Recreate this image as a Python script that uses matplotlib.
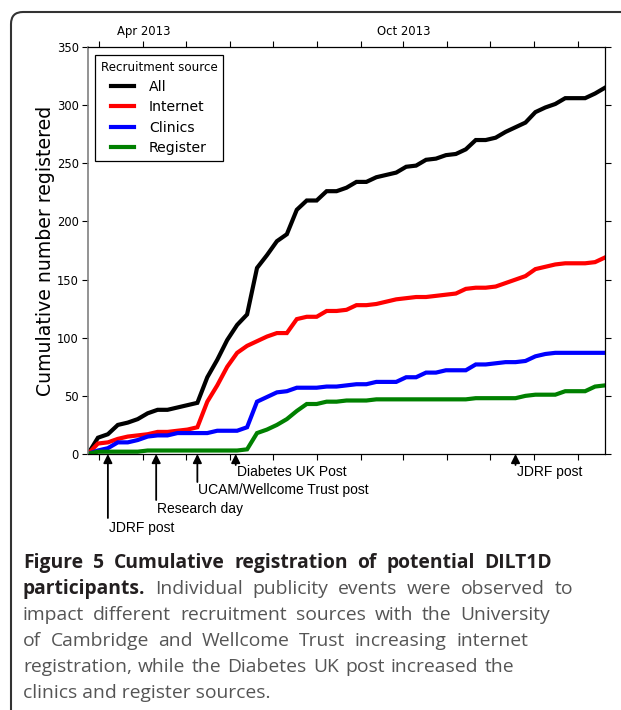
import matplotlib
matplotlib.use('Agg')
import matplotlib.pyplot as plt
import matplotlib.dates as mdates
from matplotlib.patches import FancyBboxPatch
from matplotlib.ticker import FuncFormatter
import pandas as pd

# Weekly cumulative registrations
weeks = pd.date_range('2013-02-21', periods=53, freq='7D')
all_sources = [0, 14, 17, 25, 27, 30, 35, 38, 38, 40, 42, 44, 66, 81, 98, 111, 120, 160,
               171, 183, 189, 210, 218, 218, 226, 226, 229, 234, 234, 238, 240, 242, 247,
               248, 253, 254, 257, 258, 262, 270, 270, 272, 277, 281, 285, 294, 298, 301,
               306, 306, 306, 310, 315]
internet = [0, 9, 10, 13, 15, 16, 17, 19, 19, 20, 21, 23, 45, 59, 75, 87, 93, 97, 101,
            104, 104, 116, 118, 118, 123, 123, 124, 128, 128, 129, 131, 133, 134, 135,
            135, 136, 137, 138, 142, 143, 143, 144, 147, 150, 153, 159, 161, 163, 164,
            164, 164, 165, 169]
clinics = [0, 3, 5, 10, 10, 12, 15, 16, 16, 18, 18, 18, 18, 20, 20, 20, 23, 45, 49, 53,
           54, 57, 57, 57, 58, 58, 59, 60, 60, 62, 62, 62, 66, 66, 70, 70, 72, 72, 72, 77,
           77, 78, 79, 79, 80, 84, 86, 87, 87, 87, 87, 87, 87]
register = [0, 2, 2, 2, 2, 2, 3, 3, 3, 3, 3, 3, 3, 3, 3, 3, 4, 18, 21, 25, 30, 37, 43,
            43, 45, 45, 46, 46, 46, 47, 47, 47, 47, 47, 47, 47, 47, 47, 47, 48, 48, 48,
            48, 48, 50, 51, 51, 51, 54, 54, 54, 58, 59]

series_names = ['All', 'Internet', 'Clinics', 'Register']
series_colors = ['black', '#ff0000', '#0000ff', '#008000']

# Publicity events
event_dates = pd.to_datetime(['2013-03-07', '2013-04-10', '2013-05-09', '2013-06-05', '2013-12-19'])
event_labels = ['JDRF post', 'Research day', 'UCAM/Wellcome Trust post', 'Diabetes UK Post', 'JDRF post']
event_drop = [64, 46, 28, 11, 11]      # arrow length below the axis (px)
event_text = [74, 55, 36, 18, 18]      # label centre below the axis (px)

# Caption lines: (word, bold) ; right edge of justified lines in px
caption_lines = [
    [('Figure', 1), ('5', 1), ('Cumulative', 1), ('registration', 1), ('of', 1),
     ('potential', 1), ('DILT1D', 1)],
    [('participants.', 1), ('Individual', 0), ('publicity', 0), ('events', 0),
     ('were', 0), ('observed', 0), ('to', 0)],
    [(w, 0) for w in 'impact different recruitment sources with the University'.split()],
    [(w, 0) for w in 'of Cambridge and Wellcome Trust increasing internet'.split()],
    [(w, 0) for w in 'registration, while the Diabetes UK post increased the'.split()],
    [('clinics and register sources.', 0)],
]
caption_right = [552, 573, 550, 528, 514, None]
caption_base = [568, 594, 620, 646, 672, 698]

W, H = 621, 710
fig = plt.figure(figsize=(W / 100, H / 100), dpi=100)

# rounded frame round the figure panel
frame = FancyBboxPatch((11, -40), 700, H - 12 + 40, boxstyle='round,pad=0,rounding_size=12',
                       transform=None, fill=False, edgecolor='#333333', linewidth=1.5)
fig.patches.append(frame)

ax = fig.add_axes([88 / W, 1 - 454 / H, 517 / W, 407 / H])

for vals, name, col in zip([all_sources, internet, clinics, register], series_names, series_colors):
    ax.plot(weeks, vals, color=col, lw=3, label=name, solid_joinstyle='miter')

ax.set_xlim(weeks[0], weeks[-1])
ax.set_ylim(0, 350)
ax.set_yticks(range(0, 351, 50))

ax.xaxis.set_major_locator(mdates.MonthLocator())


def month_label(x, pos):
    d = mdates.num2date(x)
    return d.strftime('%b %Y') if d.month in (4, 10) else ''


ax.xaxis.set_major_formatter(FuncFormatter(month_label))
ax.tick_params(axis='x', top=True, labeltop=True, bottom=True, labelbottom=False,
               direction='out', length=4, width=0.8, labelsize=8.4, pad=2.5)
ax.tick_params(axis='y', left=True, right=True, direction='out', length=4, width=0.8,
               labelsize=8.3, pad=2.5)
for s in ['top', 'right', 'bottom']:
    ax.spines[s].set_linewidth(0.9)
ax.spines['left'].set_color('#808080')
ax.spines['left'].set_linewidth(1.2)

ax.set_ylabel('Cumulative number registered', fontsize=13.6, labelpad=1.5)

leg = ax.legend(title='Recruitment source', loc='upper left', bbox_to_anchor=(0.0135, 0.98),
                borderaxespad=0, fontsize=10.1, title_fontsize=8.6, fancybox=False,
                edgecolor='black', framealpha=1, handlelength=1.65, handletextpad=1.05,
                labelspacing=0.45, borderpad=0.4)
leg.get_frame().set_linewidth(0.9)
for ln in leg.get_lines():
    ln.set_linewidth(3)

# event arrows and labels under the axis
for d, lab, drop, ty in zip(event_dates, event_labels, event_drop, event_text):
    ax.annotate('', xy=(d, 0), xycoords=('data', 'axes fraction'),
                xytext=(0, -drop), textcoords='offset pixels',
                arrowprops=dict(arrowstyle='-|>', color='black', lw=1.3,
                                mutation_scale=13, shrinkA=0, shrinkB=0),
                annotation_clip=False)
    ax.annotate(lab, xy=(d, 0), xycoords=('data', 'axes fraction'),
                xytext=(1, -ty), textcoords='offset pixels', ha='left', va='center',
                fontsize=10, family='Liberation Sans', annotation_clip=False)

# caption, justified word by word
cap_font = 'Open Sans'
cap_size = 13.9
renderer = fig.canvas.get_renderer()
for words, right, b in zip(caption_lines, caption_right, caption_base):
    texts = []
    for w, bold in words:
        t = fig.text(0, 1 - b / H, w, fontsize=cap_size, family=cap_font, va='baseline',
                     fontweight='bold' if bold else 'normal',
                     color='#231f20' if bold else '#555555')
        texts.append(t)
    widths = [t.get_window_extent(renderer).width for t in texts]
    gap = 0 if right is None else (right - 23 - sum(widths)) / (len(texts) - 1)
    x = 23
    for t, w in zip(texts, widths):
        t.set_x(x / W)
        x += w + gap

fig.savefig('out.png', dpi=100)
